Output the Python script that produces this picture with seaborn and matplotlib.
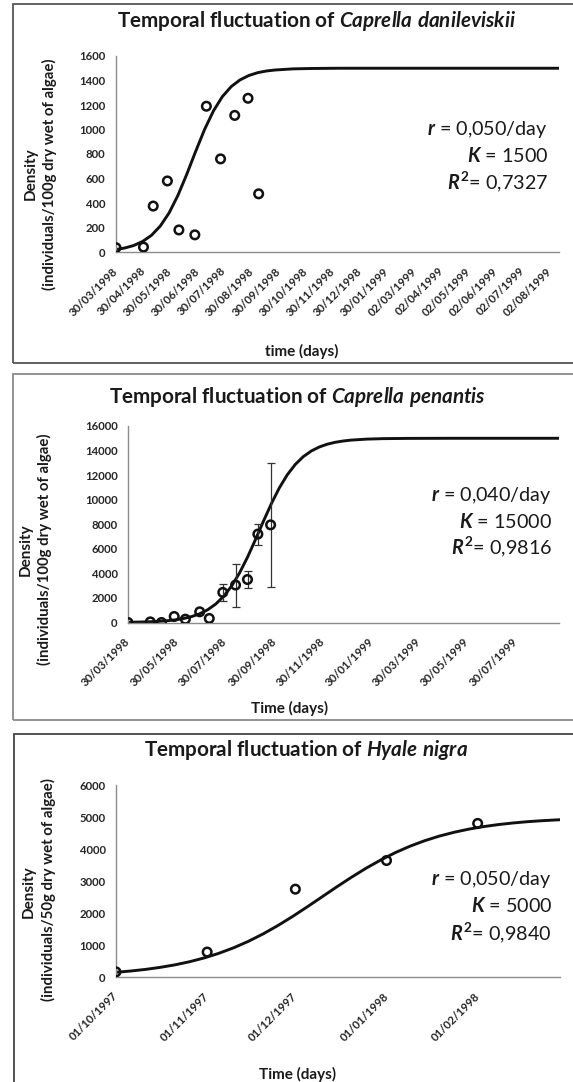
import numpy as np
import pandas as pd
import matplotlib
matplotlib.use("Agg")
import matplotlib.pyplot as plt
import seaborn as sns
from matplotlib.patches import Rectangle

# ---------------- data ----------------
# Panel 1 : Caprella danileviskii
p1_dates = ["1998-03-30", "1998-04-30", "1998-05-11", "1998-05-27", "1998-06-09",
            "1998-06-27", "1998-07-10", "1998-07-26", "1998-08-11", "1998-08-26",
            "1998-09-07"]
p1_density = [35, 40, 375, 580, 180, 140, 1190, 760, 1115, 1255, 475]
p1_curve_days = [0, 10, 20, 30, 40, 50, 60, 70, 80, 90, 100, 110, 120, 130, 140,
                 150, 160, 170, 180, 200, 220, 250, 300, 400, 500]
p1_curve_density = [20, 33, 53, 86, 136, 212, 320, 464, 637, 823, 1001, 1152, 1268,
                    1350, 1405, 1441, 1464, 1478, 1486, 1495, 1498, 1500, 1500, 1500, 1500]
p1_tick_dates = ["1998-03-30", "1998-04-30", "1998-05-30", "1998-06-30", "1998-07-30",
                 "1998-08-30", "1998-09-30", "1998-10-30", "1998-11-30", "1998-12-30",
                 "1999-01-30", "1999-03-02", "1999-04-02", "1999-05-02", "1999-06-02",
                 "1999-07-02", "1999-08-02"]
p1_tick_labels = ["30/03/1998", "30/04/1998", "30/05/1998", "30/06/1998", "30/07/1998",
                  "30/08/1998", "30/09/1998", "30/10/1998", "30/11/1998", "30/12/1998",
                  "30/01/1999", "02/03/1999", "02/04/1999", "02/05/1999", "02/06/1999",
                  "02/07/1999", "02/08/1999"]
p1_yticks = [0, 200, 400, 600, 800, 1000, 1200, 1400, 1600]

# Panel 2 : Caprella penantis
p2_dates = ["1998-03-30", "1998-04-27", "1998-05-11", "1998-05-27", "1998-06-10",
            "1998-06-28", "1998-07-10", "1998-07-27", "1998-08-12", "1998-08-27",
            "1998-09-09", "1998-09-25"]
p2_density = [0, 50, 0, 490, 270, 870, 330, 2450, 3050, 3500, 7200, 7950]
p2_error = [0, 0, 0, 0, 0, 0, 0, 700, 1750, 680, 850, 5070]
p2_curve_days = [0, 10, 20, 30, 40, 50, 60, 70, 80, 90, 100, 110, 120, 130, 140, 150,
                 160, 170, 180, 190, 200, 210, 220, 230, 240, 250, 260, 270, 280, 300,
                 320, 350, 400, 541]
p2_curve_density = [20, 30, 45, 68, 100, 149, 222, 328, 485, 712, 1037, 1496, 2128,
                    2967, 4034, 5315, 6752, 8247, 9685, 10966, 12033, 12872, 13504,
                    13963, 14289, 14516, 14672, 14778, 14851, 14933, 14970, 14991,
                    14999, 15000]
p2_tick_dates = ["1998-03-30", "1998-05-30", "1998-07-30", "1998-09-30", "1998-11-30",
                 "1999-01-30", "1999-03-30", "1999-05-30", "1999-07-30"]
p2_tick_labels = ["30/03/1998", "30/05/1998", "30/07/1998", "30/09/1998", "30/11/1998",
                  "30/01/1999", "30/03/1999", "30/05/1999", "30/07/1999"]
p2_yticks = [0, 2000, 4000, 6000, 8000, 10000, 12000, 14000, 16000]

# Panel 3 : Hyale nigra
p3_dates = ["1997-10-01", "1997-11-01", "1997-12-01", "1998-01-01", "1998-02-01"]
p3_density = [160, 780, 2745, 3640, 4800]
p3_curve_days = [0, 5, 10, 15, 20, 25, 30, 35, 40, 45, 50, 55, 60, 65, 70, 75, 80,
                 85, 90, 95, 100, 105, 110, 115, 120, 125, 130, 135, 140, 145, 150, 151]
p3_curve_density = [147, 187, 237, 301, 379, 477, 596, 741, 913, 1114, 1345, 1605,
                    1888, 2190, 2500, 2812, 3112, 3397, 3655, 3887, 4088, 4260, 4404,
                    4523, 4621, 4700, 4763, 4813, 4854, 4885, 4910, 4914]
p3_tick_dates = ["1997-10-01", "1997-11-01", "1997-12-01", "1998-01-01", "1998-02-01",
                 "1998-03-01"]
p3_tick_labels = ["01/10/1997", "01/11/1997", "01/12/1997", "01/01/1998", "01/02/1998", ""]
p3_yticks = [0, 1000, 2000, 3000, 4000, 5000, 6000]

# ---------------- style ----------------
sns.set_style("white")
plt.rcParams['font.family'] = ['Lato', 'DejaVu Sans']
plt.rcParams['mathtext.fontset'] = 'custom'
plt.rcParams['mathtext.rm'] = 'Lato'
plt.rcParams['mathtext.it'] = 'Lato:italic:bold'
plt.rcParams['mathtext.bf'] = 'Lato:bold'

W, H = 573, 1082
fig = plt.figure(figsize=(W / 100, H / 100), dpi=100)
fig.patch.set_facecolor("white")

def fx(x):
    return x / W

def fy(y):
    return 1 - y / H

def rect(l, t, r, b):
    return [l / W, 1 - b / H, (r - l) / W, (b - t) / H]

TXT = "#1a1a1a"
AXC = "#8c8c8c"

panels = [
    dict(dates=p1_dates, dens=p1_density, err=None, cdays=p1_curve_days, cdens=p1_curve_density,
         ticks=p1_tick_dates, tlabels=p1_tick_labels, yticks=p1_yticks,
         start="1998-03-30", end="1999-08-12", ax=(116, 56, 559, 252),
         border=(13, 3.5, 600, 362.5), bcol="#555555",
         title=r"Temporal fluctuation of $\mathit{Caprella\ danileviskii}$", tpos=(316, 21),
         xlabel="time (days)", xpos=(302, 351),
         yl1=(31, 174), yl2=(49, 174), ylab2="(individuals/100g dry wet of algae)",
         ann=(548, [129, 156, 182]), r="0,050", K="1500", R2="0,7327"),
    dict(dates=p2_dates, dens=p2_density, err=p2_error, cdays=p2_curve_days, cdens=p2_curve_density,
         ticks=p2_tick_dates, tlabels=p2_tick_labels, yticks=p2_yticks,
         start="1998-03-30", end="1999-09-22", ax=(128, 426, 559, 622.5),
         border=(13, 373.5, 600, 720), bcol="#8a8a8a",
         title=r"Temporal fluctuation of $\mathit{Caprella\ penantis}$", tpos=(298, 397),
         xlabel="Time (days)", xpos=(290, 708),
         yl1=(26, 550), yl2=(44, 549), ylab2="(individuals/100g dry wet of algae)",
         ann=(552, [496, 522, 547]), r="0,040", K="15000", R2="0,9816"),
    dict(dates=p3_dates, dens=p3_density, err=None, cdays=p3_curve_days, cdens=p3_curve_density,
         ticks=p3_tick_dates, tlabels=p3_tick_labels, yticks=p3_yticks,
         start="1997-10-01", end="1998-03-01", ax=(116, 785, 560, 977),
         border=(14, 733.5, 600, 1100), bcol="#444444",
         title=r"Temporal fluctuation of $\mathit{Hyale\ nigra}$", tpos=(306, 750),
         xlabel="Time (days)", xpos=(298, 1074),
         yl1=(29, 892), yl2=(48.5, 890), ylab2="(individuals/50g dry wet of algae)",
         ann=(552, [880, 906, 933]), r="0,050", K="5000", R2="0,9840"),
]

for p in panels:
    bl, bt, br, bb = p["border"]
    fig.patches.append(Rectangle((fx(bl), fy(bb)), fx(br) - fx(bl), fy(bt) - fy(bb),
                                 transform=fig.transFigure, fill=False,
                                 edgecolor=p["bcol"], linewidth=1.3, zorder=0))
    l, t, r, b = p["ax"]
    ax = fig.add_axes(rect(l, t, r, b))
    ax.set_facecolor("none")

    start = pd.Timestamp(p["start"])
    cx = start + pd.to_timedelta(np.array(p["cdays"]), unit="D")
    sns.lineplot(x=cx, y=p["cdens"], ax=ax, color="#111111", linewidth=2.1, zorder=2)

    px_ = pd.to_datetime(p["dates"])
    if p["err"] is not None:
        err = np.array(p["err"])
        m = err > 0
        ax.errorbar(px_[m], np.array(p["dens"])[m], yerr=err[m], fmt="none",
                    ecolor="#333333", elinewidth=0.9, capsize=2.6, capthick=0.9, zorder=2.5)
    sns.scatterplot(x=px_, y=p["dens"], ax=ax, s=38, facecolor="none",
                    edgecolor="#111111", linewidth=1.8, zorder=3)

    ax.set_xlim(start, pd.Timestamp(p["end"]))
    ax.set_ylim(p["yticks"][0], p["yticks"][-1])
    ax.set_xticks(pd.to_datetime(p["ticks"]))
    ax.set_xticklabels(p["tlabels"], rotation=45, ha="right", va="center",
                       rotation_mode="anchor", fontsize=8.2, fontweight="bold", color="#262626")
    ax.set_yticks(p["yticks"])
    ax.set_yticklabels([str(v) for v in p["yticks"]], fontsize=8.2, fontweight="bold",
                       color="#262626")
    ax.tick_params(axis="x", direction="out", length=3.5, width=0.9, color=AXC, pad=9)
    ax.tick_params(axis="y", direction="out", length=3, width=0.9, color=AXC, pad=4.5)
    for s in ["top", "right"]:
        ax.spines[s].set_visible(False)
    for s in ["left", "bottom"]:
        ax.spines[s].set_color(AXC)
        ax.spines[s].set_linewidth(1.0)
    ax.set_xlabel("")
    ax.set_ylabel("")

    fig.text(fx(p["tpos"][0]), fy(p["tpos"][1]), p["title"], ha="center", va="center",
             fontsize=14.9, fontweight="bold", color=TXT)
    fig.text(fx(p["xpos"][0]), fy(p["xpos"][1]), p["xlabel"], ha="center", va="center",
             fontsize=11, fontweight="bold", color=TXT)
    fig.text(fx(p["yl1"][0]), fy(p["yl1"][1]), "Density", ha="center", va="center",
             rotation=90, fontsize=11, fontweight="bold", color=TXT)
    fig.text(fx(p["yl2"][0]), fy(p["yl2"][1]), p["ylab2"], ha="center", va="center",
             rotation=90, fontsize=10.8, fontweight="bold", color=TXT)
    axx, ys = p["ann"]
    lines = [r"$\mathit{r}$ = " + p["r"] + "/day",
             r"$\mathit{K}$ = " + p["K"],
             r"$\mathit{R}^{\mathbf{2}}$= " + p["R2"]]
    for yy, s in zip(ys, lines):
        fig.text(fx(axx), fy(yy), s, ha="right", va="center", fontsize=14.2, color=TXT)

fig.savefig("out.png", dpi=100, facecolor="white")
